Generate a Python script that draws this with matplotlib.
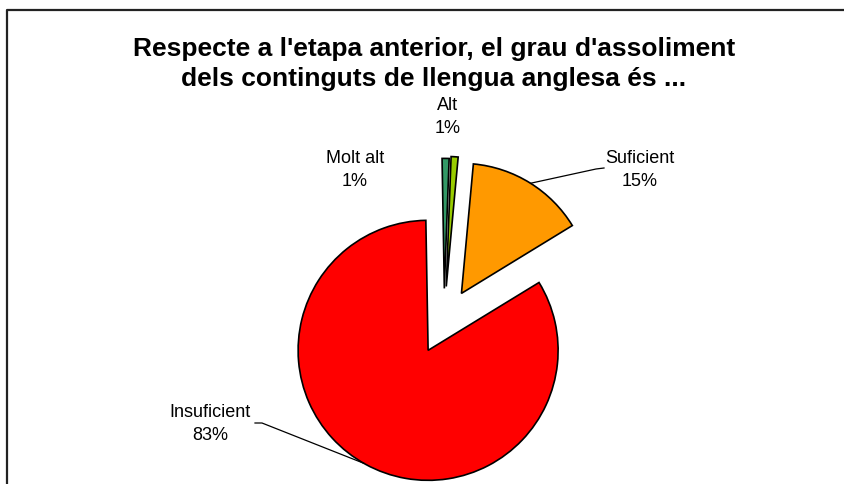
import numpy as np
import matplotlib
matplotlib.use("Agg")
import matplotlib.pyplot as plt
from matplotlib.lines import Line2D

plt.rcParams['font.family'] = ['Liberation Sans', 'DejaVu Sans']

# ---- data ----
categories = ["Molt alt", "Alt", "Suficient", "Insuficient"]
values = [0.87, 0.87, 14.8, 83.46]
colors = ["#339966", "#99CC00", "#FF9900", "#FF0000"]
title = "Respecte a l'etapa anterior, el grau d'assoliment\ndels continguts de llengua anglesa és ..."

W, H = 844, 485
fig = plt.figure(figsize=(W / 100, H / 100), dpi=100)
ax = fig.add_axes([0, 0, 1, 1])

R = 130
wedges, _ = ax.pie(values, colors=colors, startangle=91, counterclock=False,
                   radius=R, center=(444.0, H - 322.4),
                   explode=[33, 35, 33, 33],
                   wedgeprops=dict(edgecolor="black", linewidth=1.2))
ax.set_xlim(0, W)
ax.set_ylim(0, H)
ax.set_aspect("equal")
ax.axis("off")

# labels (screen coords of label block centres)
label_pos = {
    "Molt alt": (355, 170),
    "Alt": (448, 117),
    "Suficient": (640, 170),
    "Insuficient": (210, 424),
}
for cat, v in zip(categories, values):
    x, y = label_pos[cat]
    ax.text(x, H - y, f"{cat}\n{round(v)}%", ha="center", va="center",
            fontsize=13, linespacing=1.5, color="black")

# leader lines
def arc_point(w, ang):
    cx, cy = w.center
    a = np.deg2rad(ang)
    return cx + w.r * np.cos(a), cy + w.r * np.sin(a)

p = arc_point(wedges[2], 57.9)
ax.plot([p[0], 596, 604], [p[1], H - 170, H - 169], color="black", lw=0.9)
p = arc_point(wedges[3], 240.3)
ax.plot([p[0], 262, 255], [p[1], H - 424, H - 424], color="black", lw=0.9)

# title
ax.text(434, H - 64, title, ha="center", va="center", fontsize=19,
        fontweight="bold", linespacing=1.3)

# chart frame (top & left visible)
fig.add_artist(Line2D([7 / W, 7 / W, 1.0], [0, 1 - 11 / H, 1 - 11 / H],
                      transform=fig.transFigure, color="#222222", lw=1.6))

fig.savefig("out.png", dpi=100)
